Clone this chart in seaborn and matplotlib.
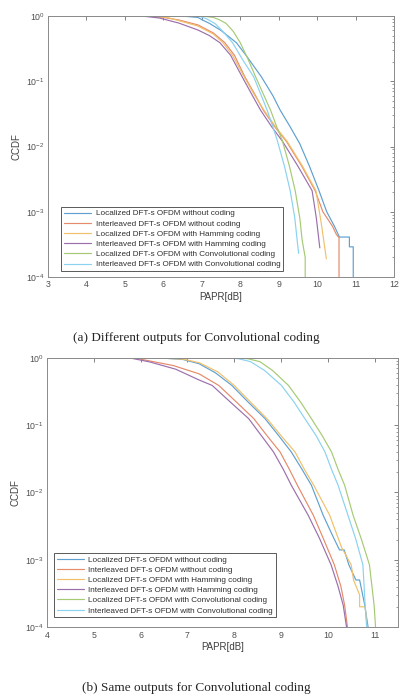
import matplotlib
matplotlib.use('Agg')
import matplotlib.pyplot as plt
import seaborn as sns
import pandas as pd

labels = [
    'Localized DFT-s OFDM without coding',
    'Interleaved DFT-s OFDM without coding',
    'Localized DFT-s OFDM with Hamming coding',
    'Interleaved DFT-s OFDM with Hamming coding',
    'Localized DFT-s OFDM with Convolutional coding',
    'Interleaved DFT-s OFDM with Convolutional coding',
]
colors = ['#5fa0d0', '#e58a6a', '#f0c06a', '#9b6fae', '#a6ca74', '#8ad2f0']

# (a) different outputs for convolutional coding
a_loc_plain_x = [3, 6.5, 6.9, 7.05, 7.2, 7.5, 7.9, 8.15, 8.55, 8.85, 9.04, 9.3, 9.55, 9.8, 10.05,
                 10.25, 10.45, 10.58, 10.84, 10.84, 10.94, 10.94]
a_loc_plain_y = [1, 0.995, 0.95, 0.85, 0.77, 0.6, 0.39, 0.25, 0.117, 0.06, 0.036, 0.02, 0.011, 5e-3, 2.1e-3,
                 1e-3, 6e-4, 4.1e-4, 4.1e-4, 2.9e-4, 2.9e-4, 1e-4]
a_int_plain_x = [3, 5.6, 6.0, 6.4, 6.9, 7.3, 7.6, 7.85, 8.12, 8.4, 8.6, 8.9, 9.2, 9.6, 9.95,
                 10.15, 10.4, 10.5, 10.57, 10.57]
a_int_plain_y = [1, 0.99, 0.95, 0.87, 0.73, 0.55, 0.39, 0.25, 0.117, 0.06, 0.036, 0.02, 0.012, 5e-3, 2.1e-3,
                 1e-3, 6e-4, 4.5e-4, 4e-4, 1e-4]
a_loc_ham_x = [3, 5.7, 6.1, 6.4, 6.9, 7.3, 7.55, 7.8, 8.1, 8.38, 8.62, 8.92, 9.22, 9.62, 9.97, 10.12, 10.24]
a_loc_ham_y = [1, 0.99, 0.95, 0.85, 0.7, 0.53, 0.39, 0.25, 0.117, 0.06, 0.036, 0.02, 0.012, 5e-3, 2.1e-3,
               6e-4, 1.9e-4]
a_int_ham_x = [3, 5.5, 5.9, 6.4, 6.9, 7.2, 7.47, 7.75, 8.05, 8.32, 8.53, 8.82, 9.1, 9.5, 9.87, 9.98, 10.07]
a_int_ham_y = [1, 0.99, 0.93, 0.78, 0.61, 0.5, 0.39, 0.25, 0.117, 0.06, 0.036, 0.02, 0.012, 5e-3, 2.1e-3,
               8e-4, 2.8e-4]
a_loc_conv_x = [3, 7.0, 7.3, 7.45, 7.63, 7.82, 8.0, 8.2, 8.4, 8.62, 8.79, 8.95, 9.09, 9.28, 9.43, 9.55,
                9.61, 9.69, 9.69]
a_loc_conv_y = [1, 1, 0.95, 0.88, 0.77, 0.58, 0.39, 0.22, 0.117, 0.06, 0.036, 0.02, 0.0126, 5e-3, 2.1e-3,
                8e-4, 3.7e-4, 2e-4, 1e-4]
a_int_conv_x = [3, 6.9, 7.1, 7.34, 7.55, 7.8, 8.05, 8.35, 8.55, 8.7, 8.85, 8.96, 9.15, 9.3, 9.42, 9.48, 9.52]
a_int_conv_y = [1, 1, 0.92, 0.77, 0.58, 0.39, 0.22, 0.117, 0.06, 0.036, 0.02, 0.0126, 5e-3, 2.1e-3,
                8e-4, 3.7e-4, 2.3e-4]

# (b) same outputs for convolutional coding
b_loc_plain_x = [4, 6.5, 6.9, 7.25, 7.6, 7.95, 8.3, 8.66, 8.95, 9.22, 9.45, 9.65, 9.9, 10.1, 10.25,
                 10.35, 10.45, 10.6, 10.68, 10.79, 10.86]
b_loc_plain_y = [1, 0.99, 0.95, 0.82, 0.6, 0.39, 0.22, 0.125, 0.07, 0.04, 0.022, 0.0128, 4.6e-3, 2.3e-3,
                 1.4e-3, 1.4e-3, 8.4e-4, 5e-4, 5e-4, 2.1e-4, 1e-4]
b_int_plain_x = [4, 5.9, 6.2, 6.7, 7.25, 7.67, 8.05, 8.42, 8.7, 8.98, 9.18, 9.35, 9.69, 9.9, 10.14,
                 10.28, 10.36, 10.42]
b_int_plain_y = [1, 0.99, 0.9, 0.77, 0.58, 0.39, 0.22, 0.125, 0.07, 0.04, 0.022, 0.0128, 4.6e-3, 2.1e-3,
                 8.4e-4, 4e-4, 2.1e-4, 1e-4]
b_loc_ham_x = [4, 6.5, 6.9, 7.25, 7.65, 8.0, 8.35, 8.7, 9.0, 9.3, 9.5, 9.7, 10.04, 10.18, 10.3, 10.5,
               10.55, 10.68, 10.68, 10.8, 10.84]
b_loc_ham_y = [1, 0.99, 0.96, 0.85, 0.62, 0.39, 0.22, 0.125, 0.07, 0.04, 0.022, 0.0128, 4.6e-3, 2.5e-3,
               1.5e-3, 8.4e-4, 5e-4, 3e-4, 2e-4, 2e-4, 1e-4]
b_int_ham_x = [4, 5.8, 6.2, 6.75, 7.25, 7.53, 7.92, 8.31, 8.58, 8.84, 9.05, 9.22, 9.58, 9.82, 10.07,
               10.22, 10.33, 10.4]
b_int_ham_y = [1, 0.99, 0.87, 0.68, 0.47, 0.39, 0.22, 0.125, 0.07, 0.04, 0.022, 0.0128, 4.6e-3, 2.1e-3,
               8.4e-4, 4e-4, 2.1e-4, 1e-4]
b_loc_conv_x = [4, 8.1, 8.3, 8.55, 8.82, 9.16, 9.42, 9.65, 9.88, 10.08, 10.22, 10.36, 10.54, 10.72,
                10.89, 10.99, 11.02]
b_loc_conv_y = [1, 1, 0.97, 0.88, 0.65, 0.39, 0.22, 0.125, 0.07, 0.04, 0.022, 0.0128, 4.6e-3, 2e-3,
                8.4e-4, 2.1e-4, 1e-4]
b_int_conv_x = [4, 7.9, 8.1, 8.35, 8.65, 9.01, 9.28, 9.51, 9.75, 9.94, 10.08, 10.22, 10.43, 10.6,
                10.75, 10.8, 10.83]
b_int_conv_y = [1, 1, 0.97, 0.88, 0.65, 0.39, 0.22, 0.125, 0.07, 0.04, 0.022, 0.0128, 4.6e-3, 2e-3,
                8.4e-4, 2e-4, 1e-4]


def make_df(series):
    frames = []
    for label, (xs, ys) in zip(labels, series):
        frames.append(pd.DataFrame({'papr': xs, 'ccdf': ys, 'scheme': label}))
    return pd.concat(frames, ignore_index=True)


df_a = make_df([(a_loc_plain_x, a_loc_plain_y), (a_int_plain_x, a_int_plain_y),
                (a_loc_ham_x, a_loc_ham_y), (a_int_ham_x, a_int_ham_y),
                (a_loc_conv_x, a_loc_conv_y), (a_int_conv_x, a_int_conv_y)])
df_b = make_df([(b_loc_plain_x, b_loc_plain_y), (b_int_plain_x, b_int_plain_y),
                (b_loc_ham_x, b_loc_ham_y), (b_int_ham_x, b_int_ham_y),
                (b_loc_conv_x, b_loc_conv_y), (b_int_conv_x, b_int_conv_y)])

sns.set_theme(style='white')
plt.rcParams['font.family'] = ['Liberation Sans', 'DejaVu Sans']

fig = plt.figure(figsize=(4.0, 6.95), dpi=100)
ax_a = fig.add_axes([0.12, 0.6014, 0.865, 0.3756])
ax_b = fig.add_axes([0.1175, 0.0978, 0.8775, 0.3872])


def style_axes(ax, df, xlim, xticks, legend_anchor):
    sns.lineplot(data=df, x='papr', y='ccdf', hue='scheme', palette=colors,
                 estimator=None, sort=False, linewidth=0.85, ax=ax)
    ax.set_yscale('log')
    ax.set_ylim(1e-4, 1)
    ax.set_xlim(*xlim)
    ax.set_xticks(xticks)
    ax.set_xlabel('PAPR[dB]', fontsize=7, color='#404040', labelpad=1.5)
    ax.set_ylabel('CCDF', fontsize=7, color='#404040', labelpad=3)
    ax.tick_params(which='both', direction='in', top=True, right=True,
                   labelsize=6.3, colors='#505050', pad=2.5)
    ax.tick_params(which='major', length=3, width=0.5)
    ax.tick_params(which='minor', length=1.5, width=0.4)
    for sp in ax.spines.values():
        sp.set_color('#8a8a8a')
        sp.set_linewidth(0.7)
    leg = ax.legend(loc='lower left', bbox_to_anchor=legend_anchor, fontsize=5.9,
                    handlelength=3.3, labelspacing=0.3, borderpad=0.3,
                    handletextpad=0.6, frameon=True, fancybox=False)
    leg.get_frame().set_edgecolor('#303030')
    leg.get_frame().set_linewidth(0.7)
    for t in leg.get_texts():
        t.set_color('#303030')


style_axes(ax_a, df_a, (3, 12), range(3, 13), (0.026, 0.008))
style_axes(ax_b, df_b, (4, 11.5), range(4, 12), (0.0085, 0.022))

fig.text(0.49, 0.514, '(a) Different outputs for Convolutional coding',
         ha='center', va='center', fontsize=9.5, family='Liberation Serif')
fig.text(0.49, 0.01, '(b) Same outputs for Convolutional coding',
         ha='center', va='center', fontsize=9.5, family='Liberation Serif')

fig.savefig('out.png', dpi=100)
